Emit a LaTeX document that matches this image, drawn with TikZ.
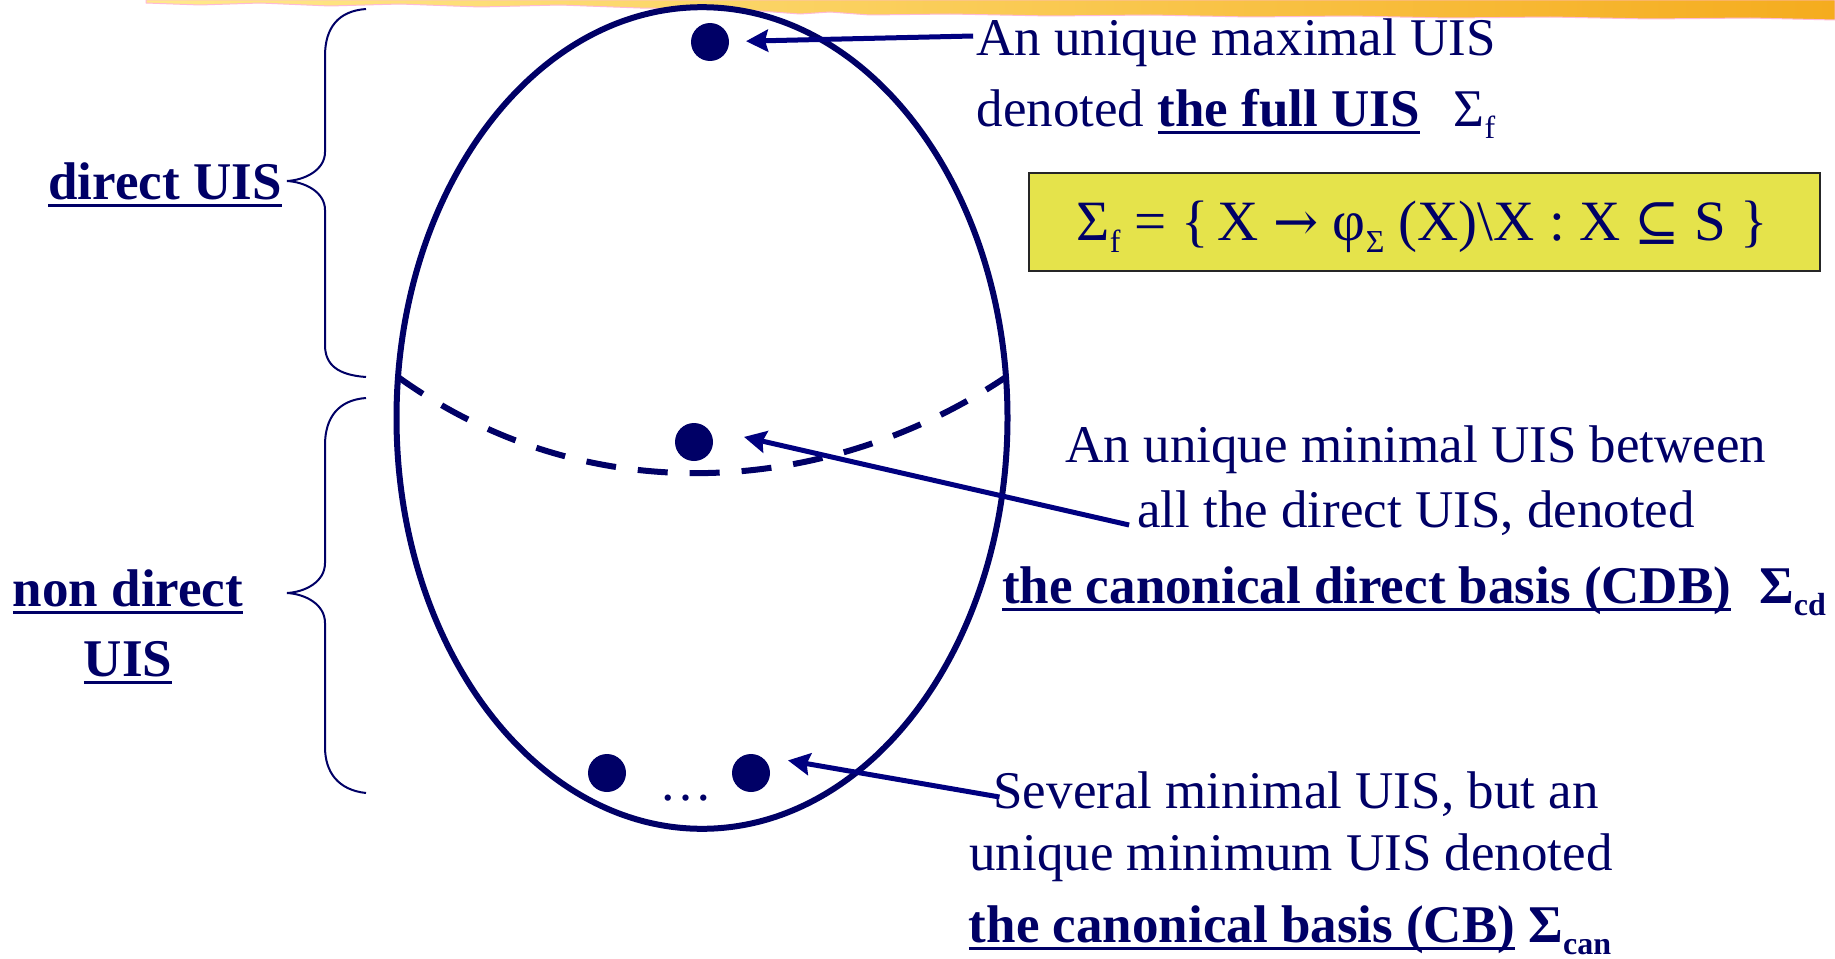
\documentclass[tikz,border=0pt]{standalone}
\usepackage{fontspec}
\setmainfont{Liberation Serif}
\newfontfamily\symfam{DejaVu Serif}
\usetikzlibrary{arrows.meta,calc}
\definecolor{navy}{RGB}{0,0,102}
\definecolor{arrowblue}{RGB}{0,0,128}
\definecolor{boxyellow}{RGB}{229,227,75}
\definecolor{stripL}{RGB}{255,234,140}
\definecolor{stripR}{RGB}{245,172,30}
\definecolor{stripedge}{RGB}{255,185,215}
\newcommand\ulx[1]{\leavevmode\setbox0=\hbox{#1}\rlap{\rule[-8pt]{\wd0}{3pt}}\box0\relax}
\newcommand\sbx[1]{\raisebox{-12pt}{\fontsize{32}{32}\selectfont #1}}
\newcommand\symx[1]{{\symfam\fontsize{54}{54}\selectfont #1}}
\tikzset{
  txt/.style={text=navy, font=\fontsize{53}{70}\selectfont, inner sep=0pt, outer sep=0pt, anchor=base},
  btxt/.style={txt, font=\fontsize{53}{70}\selectfont\bfseries},
  ftxt/.style={txt, font=\fontsize{57}{70}\selectfont},
  dot/.style={circle, fill=navy, minimum size=38pt, inner sep=0pt, outer sep=0pt},
  ptr/.style={draw=arrowblue, line width=5pt, -{Stealth[length=22pt,width=22pt,inset=3pt]}},
  bracel/.style={draw=navy, line width=2pt},
  ell/.style={draw=navy, line width=6pt},
  dashline/.style={draw=navy, line width=6pt, dash pattern=on 30pt off 22pt},
  fbox/.style={draw=black!85, line width=1.5pt, fill=boxyellow, minimum width=791pt, minimum height=98pt, inner sep=0pt, outer sep=0pt}
}
\begin{document}
\begin{tikzpicture}[x=1pt,y=-1pt]
\useasboundingbox (0,0) rectangle (1835,958);
\fill[white] (0,0) rectangle (1835,958);
% top decorative strip
\shadedraw[left color=stripL, right color=stripR, draw=stripedge, line width=1pt]
  (146,0) -- (146,3) -- (200,5) -- (260,3) -- (330,6) -- (400,4) -- (480,7) -- (560,5) -- (640,8)
  -- (700,9) -- (760,11) -- (800,14) -- (830,12) -- (870,15) -- (950,14) -- (1050,16) -- (1150,15)
  -- (1250,17) -- (1350,16) -- (1450,18) -- (1550,17) -- (1650,19) -- (1750,18) -- (1835,20) -- (1835,0) -- cycle;
% ellipse and dashed divider
\draw[ell] (702,418) ellipse [x radius=305.5pt, y radius=410.8pt];
\draw[dashline] (398,377) .. controls (590,515) and (830,495) .. (1006,377);
% dots
\node[dot] (d1) at (710,42) {};
\node[dot] (d2) at (694,442) {};
\node[dot] (d3a) at (607,773) {};
\node[dot] (d3) at (751,773) {};
\node[txt] (ell) at (686,800) {…};
% braces
\draw[bracel] (366,9) .. controls (338,11) and (325,28) .. (325,56) -- (325,152)
  .. controls (325,170) and (305,180) .. (287,181) .. controls (305,182) and (325,192) .. (325,210)
  -- (325,345) .. controls (325,365) and (338,375) .. (366,377);
\draw[bracel] (366,398) .. controls (338,400) and (325,418) .. (325,445) -- (325,563)
  .. controls (325,582) and (305,592) .. (287,593) .. controls (305,594) and (325,604) .. (325,623)
  -- (325,747) .. controls (325,772) and (338,790) .. (366,793);
% left labels
\node[btxt] (lab1) at (165,199) {\ulx{direct UIS}};
\node[btxt] (lab2) at (128,606) {\ulx{non direct}};
\node[btxt] (lab3) at (128,676) {\ulx{UIS}};
% top text
\node[txt] (a1) at (1236,56) {An unique maximal UIS};
\node[txt] (a2) at (1236,126) {denoted \ulx{\bfseries the full UIS}\hspace{34pt}Σ\sbx{f}};
% formula box
\node[fbox] (box) at (1424.5,222) {};
\node[ftxt] (form) at (1422,240) {Σ\sbx{f} = \{\,X \symx{→} φ\sbx{Σ} (X)\textbackslash X : X \symx{⊆} S \}};
% middle text
\node[txt] (b1) at (1416,462) {An unique minimal UIS between};
\node[txt] (b2) at (1416,527) {all the direct UIS, denoted};
\node[btxt] (b3) at (1414,603) {\ulx{the canonical direct basis (CDB)}\hspace{28pt}Σ\sbx{cd}};
% bottom text
\node[txt] (c1) at (1296,808) {Several minimal UIS, but an};
\node[txt] (c2) at (1291,870) {unique minimum UIS denoted};
\node[btxt] (c3) at (1290,942) {\ulx{the canonical basis (CB)} Σ\sbx{can}};
% arrows
\draw[ptr, shorten >=17pt] ($(a1.base west)+(-3,-20)$) -- (d1);
\draw[ptr, shorten >=37.5pt] ($(b2.base west)+(-8,-2)$) -- (d2.north east);
\draw[ptr, shorten >=37.5pt] ($(c1.base west)+(6,-11)$) -- (d3.north);
\end{tikzpicture}
\end{document}
